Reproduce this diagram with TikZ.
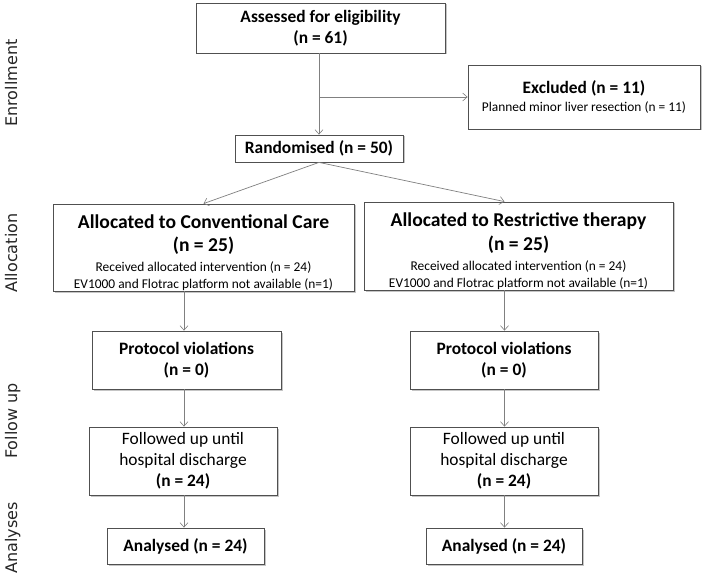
\documentclass[tikz,border=0pt]{standalone}
\usepackage{fontspec}
\setmainfont{Carlito}
\newfontfamily\labelfont{DejaVu Sans}
\usetikzlibrary{arrows.meta,shadows}
\definecolor{boxline}{HTML}{505050}
\definecolor{arrowline}{HTML}{808080}
\newcommand\fmain{\fontsize{17.4}{21}\selectfont}
\newcommand\fbig{\fontsize{19.6}{23}\selectfont}
\newcommand\fsmall{\fontsize{13.4}{17}\selectfont}
\tikzset{
  box/.style={draw=boxline, line width=0.8pt, fill=white, inner sep=0pt, align=center,
    font=\fmain\bfseries,
    drop shadow={shadow xshift=1.5pt, shadow yshift=-1.5pt, opacity=0.45, fill=black!50}},
  arr/.style={draw=arrowline, line width=0.7pt, -{Straight Barb[length=4.5pt,width=8pt,line width=0.6pt]}},
  phase/.style={font=\labelfont\fontsize{16}{19}\selectfont, rotate=90, anchor=base, text=black!85}
}
\begin{document}
\begin{tikzpicture}[x=1pt,y=-1pt]
\useasboundingbox (0,0) rectangle (705,575);
\fill[white] (0,0) rectangle (705,575);

% phase labels
\node[phase] (pen) at (17,83) {Enrollment};
\node[phase] (pal) at (17,253) {Allocation};
\node[phase] (pfu) at (17,421) {Follow up};
\node[phase] (pan) at (17,538) {Analyses};

% boxes
\node[box, minimum width=249pt, minimum height=50pt] (assess) at (320.5,28)
  {Assessed for eligibility\\(n = 61)};
\node[box, minimum width=232pt, minimum height=64pt, font=\fsmall] (excl) at (584,97)
  {\fmain\bfseries Excluded (n = 11)\\[1pt]Planned minor liver resection (n = 11)};
\node[box, minimum width=168pt, minimum height=27pt] (rand) at (319,148.5)
  {Randomised (n = 50)};

\node[box, minimum width=301pt, minimum height=87pt, font=\fsmall] (conv) at (203.5,247.5)
  {\rule{0pt}{24pt}\fbig\bfseries Allocated to Conventional Care\\[6pt]\fbig\bfseries (n = 25)\\[3pt]Received allocated intervention (n = 24)\\EV1000 and Flotrac platform not available (n=1)};
\node[box, minimum width=309pt, minimum height=88pt, font=\fsmall] (rest) at (518.5,246)
  {\rule{0pt}{24pt}\fbig\bfseries Allocated to Restrictive therapy\\[6pt]\fbig\bfseries (n = 25)\\[3pt]Received allocated intervention (n = 24)\\EV1000 and Flotrac platform not available (n=1)};

\node[box, minimum width=189pt, minimum height=58pt] (lprot) at (186.5,360)
  {Protocol violations\\(n = 0)};
\node[box, minimum width=188pt, minimum height=58pt] (rprot) at (504,360)
  {Protocol violations\\(n = 0)};

\node[box, minimum width=188pt, minimum height=68pt, font=\fmain] (lfol) at (183,461)
  {Followed up until\\hospital discharge\\\bfseries (n = 24)};
\node[box, minimum width=188pt, minimum height=68pt, font=\fmain] (rfol) at (504,461)
  {Followed up until\\hospital discharge\\\bfseries (n = 24)};

\node[box, minimum width=157pt, minimum height=36pt] (lana) at (185.5,546)
  {Analysed (n = 24)};
\node[box, minimum width=156pt, minimum height=36pt] (rana) at (504,546)
  {Analysed (n = 24)};

% column guides
\coordinate (lc) at (184,0);
\coordinate (rc) at (504.5,0);

% connectors
\draw[arr] (rand.north |- assess.south) -- (rand.north);
\draw[arr] (rand.north |- excl.west) -- (excl.west);
\draw[arr] (rand.south) -- (conv.north);
\draw[arr] (rand.south) -- (rc |- rest.north);

\draw[arr] (lc |- conv.south) -- (lc |- lprot.north);
\draw[arr] (lc |- lprot.south) -- (lc |- lfol.north);
\draw[arr] (lc |- lfol.south) -- (lc |- lana.north);

\draw[arr] (rc |- rest.south) -- (rc |- rprot.north);
\draw[arr] (rc |- rprot.south) -- (rc |- rfol.north);
\draw[arr] (rc |- rfol.south) -- (rc |- rana.north);
\end{tikzpicture}
\end{document}
